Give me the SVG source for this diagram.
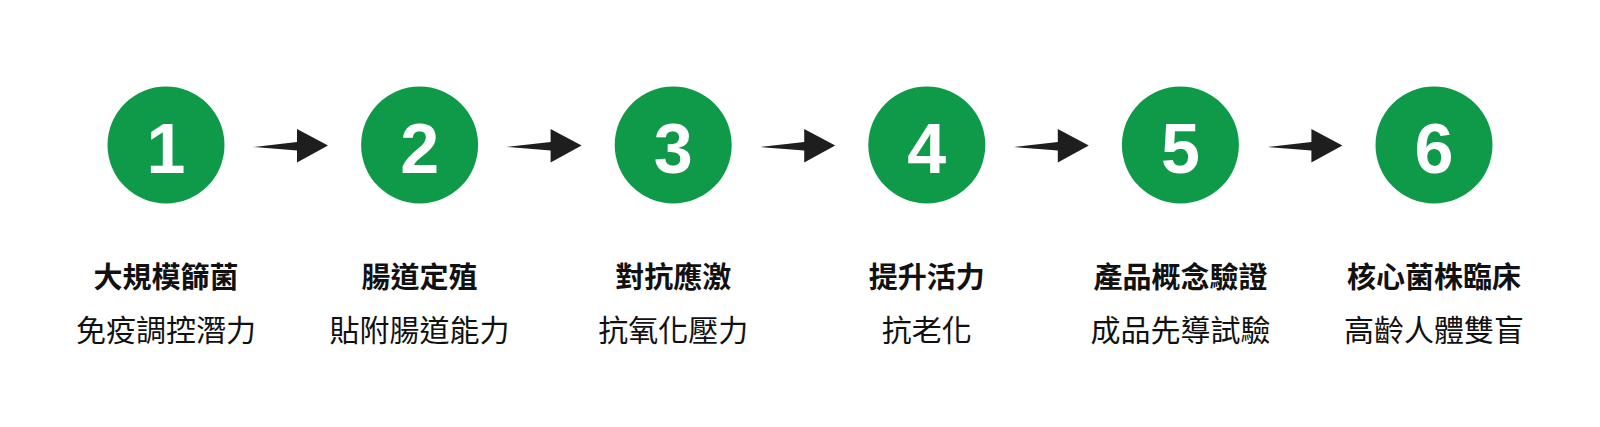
<svg xmlns="http://www.w3.org/2000/svg" width="1600" height="427" viewBox="0 0 1600 427">
<style>
.c{fill:#0e9a48}
.n{font-family:"Liberation Sans",Arial,sans-serif;font-weight:bold;font-size:70px;fill:#fff;text-anchor:middle}
.t{font-family:"Noto Sans CJK TC","Noto Sans CJK SC",sans-serif;font-weight:bold;font-size:29px;fill:#111;text-anchor:middle}
.s{font-family:"Noto Sans CJK TC","Noto Sans CJK SC",sans-serif;font-weight:normal;font-size:30px;fill:#111;text-anchor:middle}
.a{fill:#1e1e1e}
</style>
<defs>
<path id="arr" d="M0,1.5 L44,-3.5 L44,-16.5 L75,0 L44,17 L44,5 Z"/>
</defs>
<rect width="1600" height="427" fill="#fff"/>
<g id="connectors" class="a">
<use href="#arr" x="253" y="145.5"/>
<use href="#arr" x="506.6" y="145.5"/>
<use href="#arr" x="760.2" y="145.5"/>
<use href="#arr" x="1013.8" y="145.5"/>
<use href="#arr" x="1267.4" y="145.5"/>
</g>
<g id="step1">
<circle class="c" cx="166" cy="145" r="58.5"/>
<text class="n" x="166" y="173">1</text>
<text class="t" x="166" y="288">大規模篩菌</text>
<text class="s" x="166" y="340.5">免疫調控潛力</text>
</g>
<g id="step2">
<circle class="c" cx="419.6" cy="145" r="58.5"/>
<text class="n" x="419.6" y="173">2</text>
<text class="t" x="419.6" y="288">腸道定殖</text>
<text class="s" x="419.6" y="340.5">貼附腸道能力</text>
</g>
<g id="step3">
<circle class="c" cx="673.2" cy="145" r="58.5"/>
<text class="n" x="673.2" y="173">3</text>
<text class="t" x="673.2" y="288">對抗應激</text>
<text class="s" x="673.2" y="340.5">抗氧化壓力</text>
</g>
<g id="step4">
<circle class="c" cx="926.8" cy="145" r="58.5"/>
<text class="n" x="926.8" y="173">4</text>
<text class="t" x="926.8" y="288">提升活力</text>
<text class="s" x="926.8" y="340.5">抗老化</text>
</g>
<g id="step5">
<circle class="c" cx="1180.4" cy="145" r="58.5"/>
<text class="n" x="1180.4" y="173">5</text>
<text class="t" x="1180.4" y="288">產品概念驗證</text>
<text class="s" x="1180.4" y="340.5">成品先導試驗</text>
</g>
<g id="step6">
<circle class="c" cx="1434" cy="145" r="58.5"/>
<text class="n" x="1434" y="173">6</text>
<text class="t" x="1434" y="288">核心菌株臨床</text>
<text class="s" x="1434" y="340.5">高齡人體雙盲</text>
</g>
</svg>
